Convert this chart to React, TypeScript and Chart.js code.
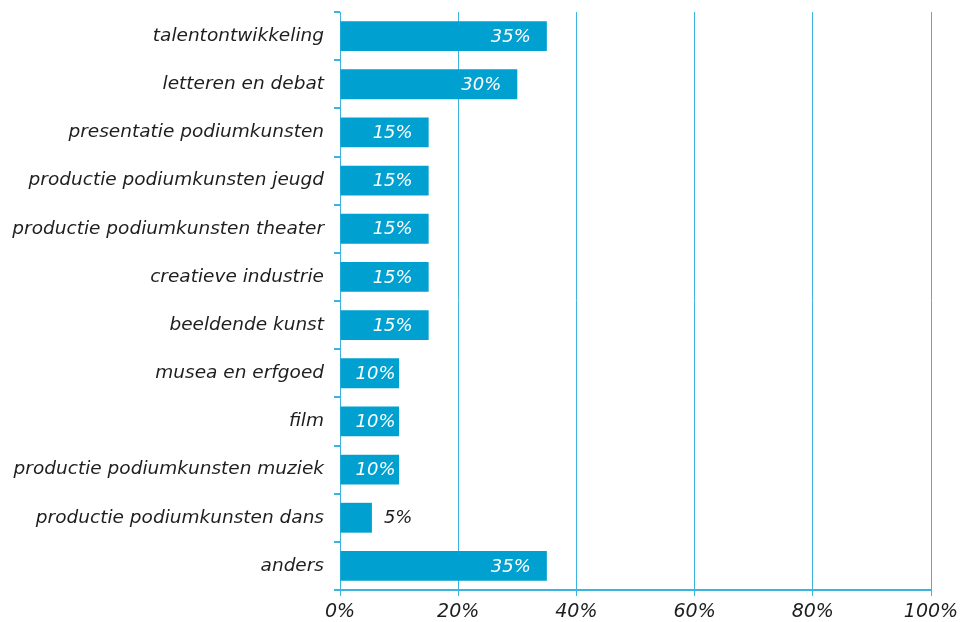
import React, { useEffect, useRef } from "react";
import { Chart, registerables } from "chart.js";

Chart.register(...registerables);

const categories = [
  "talentontwikkeling",
  "letteren en debat",
  "presentatie podiumkunsten",
  "productie podiumkunsten jeugd",
  "productie podiumkunsten theater",
  "creatieve industrie",
  "beeldende kunst",
  "musea en erfgoed",
  "film",
  "productie podiumkunsten muziek",
  "productie podiumkunsten dans",
  "anders",
];
const values = [35, 30, 15, 15, 15, 15, 15, 10, 10, 10, 5.4, 35];
const valueLabels = ["35%", "30%", "15%", "15%", "15%", "15%", "15%", "10%", "10%", "10%", "5%", "35%"];
const xTicks = [0, 20, 40, 60, 80, 100];

const BAR = "#00a1d1";
const GRID = "#3db3df";
const TEXT = "#1e1e1e";
const FONT = "'DejaVu Sans', Verdana, sans-serif";

const labelPlugin = {
  id: "barLabels",
  afterDatasetsDraw(chart: any) {
    const ctx = chart.ctx;
    const meta = chart.getDatasetMeta(0);
    ctx.save();
    ctx.font = `italic 18px ${FONT}`;
    ctx.textBaseline = "middle";
    meta.data.forEach((bar: any, i: number) => {
      const text = valueLabels[i];
      const w = ctx.measureText(text).width;
      const barW = bar.x - bar.base;
      if (barW > w + 18) {
        ctx.fillStyle = "#ffffff";
        ctx.textAlign = "left";
        let left = bar.x - 16 - w;
        if (left < bar.base + 15) left = bar.base + 15;
        ctx.fillText(text, left, bar.y + 1);
      } else {
        ctx.fillStyle = TEXT;
        ctx.textAlign = "left";
        ctx.fillText(text, bar.x + 12, bar.y + 1);
      }
    });
    ctx.restore();
  },
};

export default function App() {
  const ref = useRef<HTMLCanvasElement | null>(null);
  useEffect(() => {
    if (!ref.current) return;
    const chart = new Chart(ref.current, {
      type: "bar",
      data: {
        labels: categories,
        datasets: [
          {
            data: values,
            backgroundColor: BAR,
            borderWidth: 0,
            barPercentage: 0.62,
            categoryPercentage: 1,
          },
        ],
      },
      options: {
        indexAxis: "y",
        animation: false,
        responsive: false,
        maintainAspectRatio: false,
        layout: { padding: { top: 12, right: 0, left: 0, bottom: 0 } },
        plugins: { legend: { display: false }, tooltip: { enabled: false } },
        scales: {
          x: {
            min: 0,
            max: 100,
            afterBuildTicks(scale: any) {
              scale.ticks = xTicks.map((v) => ({ value: v }));
            },
            afterFit(scale: any) {
              scale.height = 32;
              scale.paddingLeft = 0;
              scale.paddingRight = 30;
            },
            ticks: {
              callback: (v: any) => v + "%",
              color: TEXT,
              font: { family: FONT, size: 19, style: "italic" },
              padding: 5,
              maxRotation: 0,
            },
            grid: { color: GRID, lineWidth: 1, tickLength: 6, drawTicks: true },
            border: { color: GRID, width: 2 },
          },
          y: {
            afterFit(scale: any) {
              scale.width = 340;
              scale.paddingTop = 0;
              scale.paddingBottom = 0;
            },
            ticks: {
              color: TEXT,
              font: { family: FONT, size: 18.5, style: "italic" },
              padding: 10,
            },
            grid: {
              offset: true,
              drawOnChartArea: false,
              color: GRID,
              tickLength: 6,
              lineWidth: 2,
            },
            border: { color: GRID, width: 1 },
          },
        },
      },
      plugins: [labelPlugin],
    });
    return () => chart.destroy();
  }, []);
  return (
    <div style={{ position: "absolute", left: 0, top: 0, width: 961, height: 622, background: "#fff" }}>
      <canvas ref={ref} width={961} height={622} style={{ width: 961, height: 622 }} />
    </div>
  );
}
